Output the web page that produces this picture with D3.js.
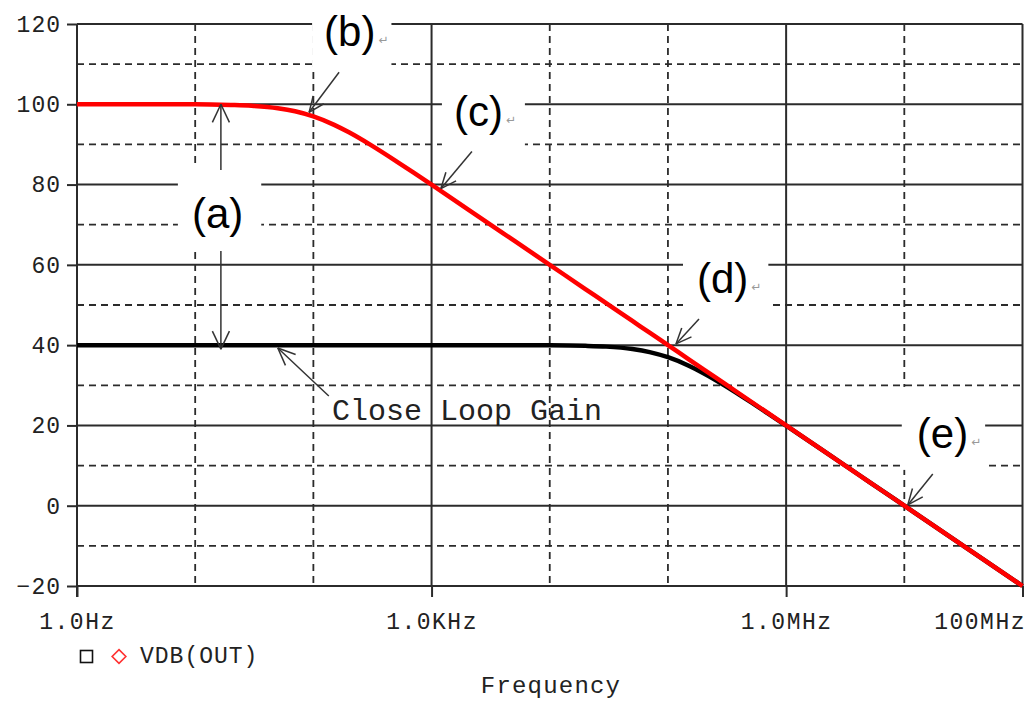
<!DOCTYPE html>
<html>
<head>
<meta charset="utf-8">
<script src="https://cdn.jsdelivr.net/npm/d3@7"></script>
<style>
    html, body { margin: 0; padding: 0; background: #fff; }
    svg { display: block; }
    .mono { font-family: "Liberation Mono", "DejaVu Sans Mono", monospace; fill: #222; }
    .anno { font-family: "Liberation Sans", Arial, sans-serif; fill: #000; }
</style>
</head>
<body>
<svg id="chart" width="1026" height="701"></svg>
<script>
// frequency sweep (Hz) and the two traces in dB
const freq = [1, 10, 20, 30, 50, 70, 100, 150, 200, 300, 500, 700, 1e3, 2e3, 5e3,
    1e4, 2e4, 3e4, 5e4, 7e4, 1e5, 1.5e5, 2e5, 3e5, 5e5, 7e5, 1e6, 2e6, 5e6, 1e7, 1e8];
const openLoopDb = [100.0, 100.0, 99.83, 99.63, 99.03, 98.27, 96.99, 94.88, 93.01, 90.0, 85.85, 83.01, 79.96, 73.97, 66.02,
    60.0, 53.98, 50.46, 46.02, 43.1, 40.0, 36.48, 33.98, 30.46, 26.02, 23.1, 20.0, 13.98, 6.02, 0.0, -20.0];
const closedLoopDb = [40, 40, 40, 40, 40, 40, 40, 40, 40, 40, 40, 40, 40, 40, 39.99,
    39.96, 39.83, 39.63, 39.03, 38.27, 36.99, 34.88, 33.01, 30.0, 25.85, 23.01, 19.96, 13.97, 6.02, 0.0, -20.0];

// axes
const yMajor = [-20, 0, 20, 40, 60, 80, 100, 120];
const yMinor = [-10, 10, 30, 50, 70, 90, 110];
const xMajor = [1, 1e3, 1e6, 1e8];
const xMinor = [10, 100, 1e4, 1e5, 1e7];
const xTickLabels = ["1.0Hz", "1.0KHz", "1.0MHz", "100MHz"];

// annotations: label, arrow tip (freq, dB)
const annoLabels = ["(b)", "(c)", "(d)", "(e)"];
const annoFreq = [92, 1200, 1.17e5, 1.07e7];
const annoDb = [98, 79, 40.3, 0.2];
const gapFreq = 16.5;           // (a) double arrow between the two gains
const gapDb = [100, 39];
const closeLoopTip = [50, 39.3];

const svg = d3.select("#chart");
const x = d3.scaleLog().domain([1, 1e8]).range([77, 1022.5]);
const y = d3.scaleLinear().domain([-20, 120]).range([586, 24]);
const gridColor = "#2b2b2b";

// grid
const grid = svg.append("g");
grid.selectAll(".hmin").data(yMinor).enter().append("line")
    .attr("x1", x(1)).attr("x2", x(1e8))
    .attr("y1", d => y(d)).attr("y2", d => y(d))
    .attr("stroke", gridColor).attr("stroke-width", 1.8).attr("stroke-dasharray", "7,5");
grid.selectAll(".vmin").data(xMinor).enter().append("line")
    .attr("x1", d => x(d)).attr("x2", d => x(d))
    .attr("y1", y(120)).attr("y2", y(-20))
    .attr("stroke", gridColor).attr("stroke-width", 1.8).attr("stroke-dasharray", "7,5");
grid.selectAll(".hmaj").data(yMajor).enter().append("line")
    .attr("x1", x(1)).attr("x2", x(1e8))
    .attr("y1", d => y(d)).attr("y2", d => y(d))
    .attr("stroke", gridColor).attr("stroke-width", 2);
grid.selectAll(".vmaj").data(xMajor).enter().append("line")
    .attr("x1", d => x(d)).attr("x2", d => x(d))
    .attr("y1", y(120)).attr("y2", y(-20))
    .attr("stroke", gridColor).attr("stroke-width", 2);

// y axis
const yAxis = svg.append("g")
    .attr("transform", `translate(${x(1)},0)`)
    .call(d3.axisLeft(y).tickValues(yMajor).tickSize(10).tickPadding(6));
yAxis.select(".domain").remove();
yAxis.selectAll("line").attr("stroke", gridColor).attr("stroke-width", 2);
yAxis.selectAll("text").attr("class", "mono").style("font-size", "23px")
    .style("letter-spacing", "1px").attr("fill", "#222");
yAxis.append("line").attr("x1", 0).attr("x2", 0)
    .attr("y1", y(120)).attr("y2", y(-20) + 11)
    .attr("stroke", gridColor).attr("stroke-width", 2);

// x axis
const xAxis = svg.append("g")
    .attr("transform", `translate(0,${y(-20)})`)
    .call(d3.axisBottom(x).tickValues(xMajor).tickSize(11).tickPadding(16)
        .tickFormat((d, i) => xTickLabels[i]));
xAxis.select(".domain").remove();
xAxis.selectAll("line").attr("stroke", gridColor).attr("stroke-width", 2);
xAxis.selectAll("text").attr("class", "mono").style("font-size", "23px")
    .style("letter-spacing", "1.5px").attr("fill", "#222")
    .attr("text-anchor", (d, i) => i === xMajor.length - 1 ? "end" : "middle")
    .attr("dx", (d, i) => i === xMajor.length - 1 ? "3" : "0");

svg.append("text").attr("class", "mono")
    .attr("x", 551).attr("y", 693).attr("text-anchor", "middle")
    .style("font-size", "24px").style("letter-spacing", "1.2px")
    .text("Frequency");

// legend
const legend = svg.append("g").attr("transform", "translate(80,650)");
legend.append("rect").attr("x", 0.5).attr("y", 0.5).attr("width", 12).attr("height", 12)
    .attr("fill", "none").attr("stroke", "#111").attr("stroke-width", 1.6);
legend.append("path").attr("d", d3.symbol(d3.symbolDiamond2, 120)())
    .attr("transform", "translate(39,6.5)")
    .attr("fill", "none").attr("stroke", "#ff3030").attr("stroke-width", 1.6);
legend.append("text").attr("class", "mono").attr("x", 60).attr("y", 13)
    .style("font-size", "23px").style("letter-spacing", "1px").text("VDB(OUT)");

// traces
const line = (vals) => d3.line()
    .x((d, i) => x(freq[i]))
    .y(d => y(d))
    .curve(d3.curveMonotoneX)(vals);
svg.append("path").attr("d", line(closedLoopDb))
    .attr("fill", "none").attr("stroke", "#000").attr("stroke-width", 4.5);
svg.append("path").attr("d", line(openLoopDb))
    .attr("fill", "none").attr("stroke", "#ff0000").attr("stroke-width", 4.5);

// annotation helpers
const annoG = svg.append("g");
function arrow(x1, y1, x2, y2, len = 19, spread = 0.42) {
    const ang = Math.atan2(y2 - y1, x2 - x1);
    const g = annoG.append("g").attr("stroke", "#333").attr("stroke-width", 1.5);
    g.append("line").attr("x1", x1).attr("y1", y1).attr("x2", x2).attr("y2", y2);
    [-spread, spread].forEach(s => {
        g.append("line").attr("x1", x2).attr("y1", y2)
            .attr("x2", x2 - len * Math.cos(ang + s))
            .attr("y2", y2 - len * Math.sin(ang + s));
    });
}
function label(txt, lx, ly, pad, mark = true) {
    const g = annoG.append("g");
    const box = g.append("rect").attr("fill", "#fff");
    const t = g.append("text").attr("class", "anno").attr("x", lx).attr("y", ly)
        .style("font-size", "42px").text(txt);
    const bb = t.node().getBBox();
    if (mark) {
        g.append("text").attr("x", bb.x + bb.width + 3).attr("y", ly - 2)
            .style("font-family", "DejaVu Sans").style("font-size", "12px")
            .attr("fill", "#999").text("\u21b5");
    }
    box.attr("x", bb.x - pad[0]).attr("y", bb.y - pad[1])
        .attr("width", bb.width + pad[0] + pad[2])
        .attr("height", bb.height + pad[1] + pad[3]);
}

// (a): gap between open and closed loop gains
const ax = x(gapFreq);
label("(a)", ax - 29, 228, [14, 26, 18, 13], false);
arrow(ax, 170, ax, y(gapDb[0]), 20, 0.44);
arrow(ax, 251, ax, y(gapDb[1]), 20, 0.44);

// (b)..(e)
const labelOffsets = [[15, -66], [13, -63], [21, -51], [9, -57]];
const tailOffsets = [[30, -40], [31, -37], [23, -25], [25, -31]];
const boxPads = [[12, 30, 16, 13], [12, 12, 22, 13], [14, 12, 20, 12], [15, 23, 17, 13]];
annoLabels.forEach((txt, i) => {
    const tx = x(annoFreq[i]), ty = y(annoDb[i]);
    label(txt, tx + labelOffsets[i][0], ty + labelOffsets[i][1], boxPads[i]);
    arrow(tx + tailOffsets[i][0], ty + tailOffsets[i][1], tx, ty, 17, 0.4);
});

// closed loop gain callout
const cx = x(closeLoopTip[0]), cy = y(closeLoopTip[1]);
arrow(cx + 51, cy + 48, cx, cy, 19, 0.4);
svg.append("text").attr("class", "mono").attr("x", 332).attr("y", 420)
    .style("font-size", "30px").attr("fill", "#333").text("Close Loop Gain");
</script>
</body>
</html>
